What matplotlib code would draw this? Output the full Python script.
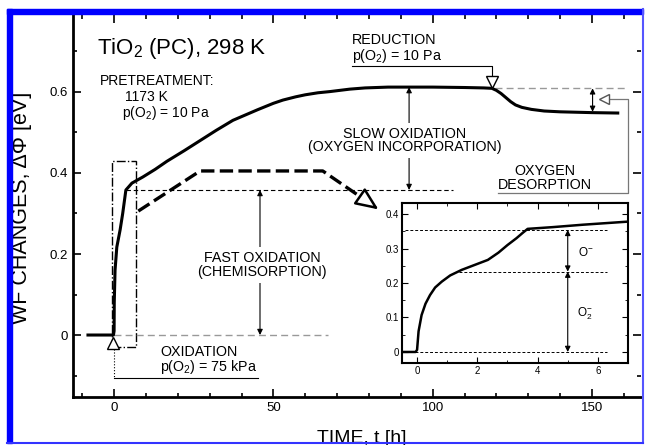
import matplotlib.pyplot as plt
from matplotlib.patches import Rectangle
from matplotlib.ticker import MultipleLocator

plt.rcParams['font.family'] = ['Liberation Sans', 'DejaVu Sans']
plt.rcParams['mathtext.fontset'] = 'custom'
plt.rcParams['mathtext.rm'] = 'Liberation Sans'
plt.rcParams['mathtext.it'] = 'Liberation Sans:italic'
plt.rcParams['mathtext.default'] = 'regular'

# work function change of TiO2, main run (time in h, dPhi in eV)
time_h = [-8.2, -0.2, 0.0, 0.05, 0.3, 0.85, 1.9, 2.7, 3.7, 5.6, 9, 12.9, 16.6, 22,
          27, 32, 37.3, 45, 50, 53, 57, 60, 64, 67.8, 74, 78.8, 86, 92.2, 100, 110, 116,
          118.6, 120, 121.5, 123, 124.5, 126, 128, 131, 135, 140, 150, 158.1]
wf_ev = [0, 0, 0.01, 0.08, 0.16, 0.217, 0.26, 0.30, 0.358, 0.375, 0.39, 0.409, 0.429, 0.455,
         0.48, 0.505, 0.53, 0.556, 0.572, 0.58, 0.588, 0.593, 0.598, 0.601, 0.607, 0.61, 0.612,
         0.612, 0.612, 0.611, 0.61,
         0.609, 0.604, 0.596, 0.586, 0.576, 0.568, 0.562, 0.557, 0.553, 0.551, 0.549, 0.548]

# zoom on the first hours
zoom_t = [-0.5, -0.05, 0.0, 0.05, 0.15, 0.28, 0.43, 0.6, 0.82, 1.1, 1.48, 1.9, 2.35,
          2.7, 3.0, 3.3, 3.5, 3.67, 4.5, 5.5, 7.0]
zoom_wf = [0, 0, 0.006, 0.06, 0.107, 0.14, 0.165, 0.187, 0.204, 0.222, 0.238, 0.252, 0.267,
           0.288, 0.31, 0.33, 0.345, 0.357, 0.362, 0.369, 0.378]

fast_level = 0.358
plateau = 0.609
after_red = 0.551
o2_level = 0.233
o_level = 0.354

# schematic dashed arrow (fast -> slow)
sketch_t = [7.6, 27, 65.5, 78.1]
sketch_wf = [0.306, 0.405, 0.405, 0.337]

W, H = 645, 445
fig = plt.figure(figsize=(W / 100, H / 100), dpi=100)
ax = fig.add_axes([73 / W, 1 - 397 / H, 568 / W, 382 / H])
ax.set_xlim(-12.9, 165.4)
ax.set_ylim(-0.153, 0.790)

ax.plot(time_h, wf_ev, color='k', lw=2.2, zorder=4)

ax.set_xticks([0, 50, 100, 150])
ax.xaxis.set_minor_locator(MultipleLocator(10))
ax.set_yticks([0, 0.2, 0.4, 0.6])
ax.set_yticklabels(['0', '0.2', '0.4', '0.6'])
ax.yaxis.set_minor_locator(MultipleLocator(0.1))
ax.tick_params(which='both', direction='in', top=True, right=True, labelsize=9.5, width=1.2)
ax.tick_params(which='major', length=6)
ax.tick_params(which='minor', length=3)
for s in ['left', 'bottom']:
    ax.spines[s].set_linewidth(2)
ax.spines['top'].set_visible(False)
ax.spines['right'].set_visible(False)

arrow = dict(arrowstyle='<|-|>', lw=0.8, color='k', mutation_scale=8, shrinkA=0, shrinkB=0)

# dash-dot box around the fast step
ax.add_patch(Rectangle((-0.7, -0.03), 7.6, 0.46, fill=False, ls='-.', lw=1))

ax.plot([3.8, 106.4], [fast_level, fast_level], color='k', lw=0.8, ls=(0, (4, 2.5)))
ax.plot([0, 67.1], [0, 0], color='#999999', lw=1, ls=(0, (5, 3)))
ax.plot([119.5, 160.3], [plateau, plateau], color='#999999', lw=1, ls=(0, (5, 3)))

ax.annotate('', xy=(45.8, 0.0), xytext=(45.8, fast_level), arrowprops=arrow)
ax.text(46.4, 0.173, 'FAST OXIDATION\n(CHEMISORPTION)', ha='center', va='center',
        fontsize=10.3, linespacing=0.95, zorder=6,
        bbox=dict(fc='white', ec='none', pad=3))

ax.annotate('', xy=(92.6, fast_level), xytext=(92.6, 0.612), arrowprops=arrow)
ax.text(91.3, 0.48, 'SLOW OXIDATION\n(OXYGEN INCORPORATION)', ha='center', va='center',
        fontsize=10.3, linespacing=0.95, zorder=6,
        bbox=dict(fc='white', ec='none', pad=3))

ax.annotate('', xy=(150.2, after_red), xytext=(150.2, plateau), arrowprops=arrow)

# big dashed arrow
ax.plot(sketch_t, sketch_wf, color='k', lw=2.4, ls=(0, (4, 1.6)))
ax.annotate('', xy=(83.0, 0.31), xytext=(sketch_t[-1], sketch_wf[-1]),
            arrowprops=dict(arrowstyle='-|>,head_length=0.7,head_width=0.3', fc='white',
                            ec='k', lw=1.8, mutation_scale=20, shrinkA=0, shrinkB=0))

# oxidation marker
ax.plot([0, 0], [-0.035, -0.106], color='k', lw=0.8, ls=':')
ax.plot([0, 45.2], [-0.106, -0.106], color='k', lw=0.8)
ax.plot(-0.3, -0.02, marker='^', ms=8, mfc='white', mec='k', mew=1, zorder=6)
ax.text(14.4, -0.043, 'OXIDATION', fontsize=10.3, va='center')
ax.text(14.4, -0.08, 'p(O$_2$) = 75 kPa', fontsize=10.3, va='center')

# reduction marker
ax.plot([74.7, 118.5, 118.5], [0.664, 0.664, 0.64], color='k', lw=0.8)
ax.plot(118.5, 0.625, marker='v', ms=8, mfc='white', mec='k', mew=1, zorder=6)
ax.text(74.7, 0.728, 'REDUCTION', fontsize=10.3, va='center')
ax.text(74.7, 0.69, 'p(O$_2$) = 10 Pa', fontsize=10.3, va='center')

# oxygen desorption bracket
ax.plot([155, 161.3, 161.3, 120.5], [0.582, 0.582, 0.35, 0.35], color='#777777', lw=0.9)
ax.plot(153.7, 0.582, marker='<', ms=7, mfc='white', mec='#555555', mew=1, zorder=6)
ax.text(135.2, 0.388, 'OXYGEN\nDESORPTION', ha='center', va='center', fontsize=10.3,
        linespacing=0.95)

ax.text(-5.3, 0.708, 'TiO$_2$ (PC), 298 K', fontsize=16, va='center')
ax.text(-4.4, 0.627, 'PRETREATMENT:', fontsize=10, va='center')
ax.text(3.45, 0.588, '1173 K', fontsize=10, va='center')
ax.text(2.5, 0.548, 'p(O$_2$) = 10 Pa', fontsize=10, va='center')

# inset
ins = fig.add_axes([402 / W, 1 - 363 / H, 226 / W, 160 / H])
ins.set_xlim(-0.5, 7.0)
ins.set_ylim(-0.032, 0.432)
ins.plot(zoom_t, zoom_wf, color='k', lw=1.8)
ins.plot([-0.4, 6.3], [o_level, o_level], color='k', lw=0.7, ls=(0, (3, 2)))
ins.plot([1.4, 6.3], [o2_level, o2_level], color='k', lw=0.7, ls=(0, (3, 2)))
ins.plot([-0.07, 6.3], [0, 0], color='k', lw=0.7, ls=(0, (3, 2)))
ins.annotate('', xy=(5.0, o2_level), xytext=(5.0, o_level), arrowprops=arrow)
ins.annotate('', xy=(5.0, 0), xytext=(5.0, o2_level), arrowprops=arrow)
ins.text(5.34, 0.287, 'O$^{-}$', fontsize=8.5, va='center')
ins.text(5.3, 0.11, 'O$_2^{-}$', fontsize=8.5, va='center')
ins.set_xticks([0, 2, 4, 6])
ins.xaxis.set_minor_locator(MultipleLocator(1))
ins.set_yticks([0, 0.1, 0.2, 0.3, 0.4])
ins.set_yticklabels(['0', '0.1', '0.2', '0.3', '0.4'])
ins.yaxis.set_minor_locator(MultipleLocator(0.05))
ins.tick_params(which='both', direction='in', top=True, right=True, labelsize=7, pad=2)
ins.tick_params(which='major', length=4)
ins.tick_params(which='minor', length=2)
for s in ins.spines.values():
    s.set_linewidth(1.5)

fig.text(22 / W, 1 - 208 / H, 'WF CHANGES, ΔΦ [eV]', rotation=90, ha='center', va='center',
         fontsize=15.5)
fig.text(362 / W, 1 - 430 / H, 'TIME, t [h]', ha='center', va='top', fontsize=14)

# blue frame of the scan
blue = '#0000ff'
fig.add_artist(Rectangle((7 / W, 1 - 443 / H), 5 / W, 434 / H, transform=fig.transFigure,
                         color=blue, zorder=10))
fig.add_artist(Rectangle((7 / W, 1 - 14 / H), 636 / W, 5 / H, transform=fig.transFigure,
                         color=blue, zorder=10))
fig.add_artist(plt.Line2D([643 / W, 643 / W], [1 - 443 / H, 1 - 9 / H], transform=fig.transFigure,
                          color='#5555ff', lw=1.5, zorder=10))
fig.add_artist(plt.Line2D([7 / W, 643 / W], [1 - 443 / H, 1 - 443 / H], transform=fig.transFigure,
                          color='#3333ff', lw=1.5, zorder=10))

fig.savefig('out.png', dpi=100)
